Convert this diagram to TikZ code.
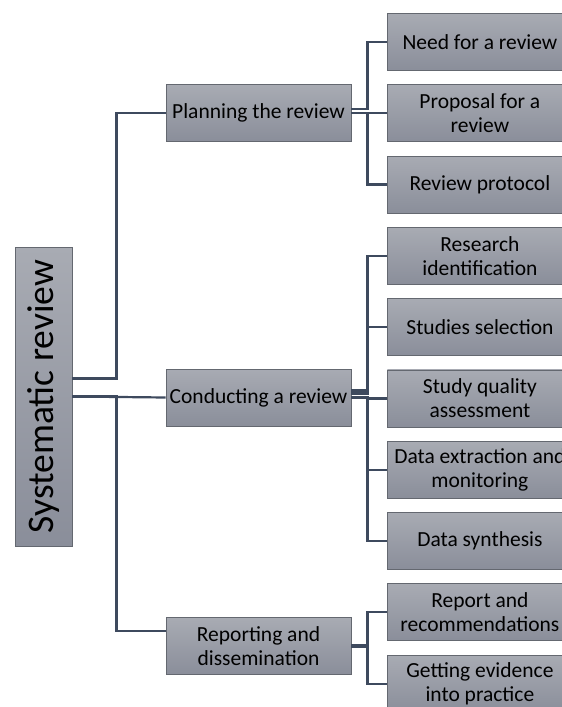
\documentclass[tikz,border=0pt]{standalone}
\usepackage{fontspec}
\setmainfont{Carlito}
\usepackage{tikz}
\usetikzlibrary{positioning,calc}

\definecolor{boxtop}{RGB}{168,171,179}
\definecolor{boxbot}{RGB}{138,142,154}
\definecolor{boxline}{RGB}{100,104,112}
\definecolor{connline}{RGB}{62,74,94}

\begin{document}
\begin{tikzpicture}[
    x=1pt, y=-1pt,
    node distance=13.5pt,
    stagebox/.style={rectangle, draw=boxline, line width=0.8pt, top color=boxtop, bottom color=boxbot, minimum width=185pt, minimum height=57pt, align=center, inner sep=1pt, text=black, font=\fontsize{21.5}{24}\selectfont},
    rootbox/.style={stagebox, minimum width=57pt, minimum height=299pt, font=\fontsize{37.5}{40}\selectfont},
    conn/.style={draw=connline, line width=2.2pt}
]
\useasboundingbox (0,0) rectangle (562,707);
\clip (0,0) rectangle (562,707);

\node[rootbox] (root) at (43.5,396.5) {\rotatebox{90}{Systematic review}};

\node[stagebox] (plan) at (258.5,113) {Planning the review};
\node[stagebox] (cond) at (258.5,397.5) {Conducting a review};
\node[stagebox] (rep) at (258.5,646) {Reporting and\\dissemination};

\node[stagebox, anchor=north west] (need) at (387,13) {Need for a review};
\node[stagebox, below=of need] (prop) {Proposal for a\\review};
\node[stagebox, below=of prop] (prot) {Review protocol};
\node[stagebox, below=of prot] (ident) {Research\\identification};
\node[stagebox, below=of ident] (sel) {Studies selection};
\node[stagebox, below=of sel] (qual) {Study quality\\assessment};
\node[stagebox, below=of qual] (extr) {Data extraction and\\monitoring};
\node[stagebox, below=of extr] (synth) {Data synthesis};
\node[stagebox, below=of synth] (recom) {Report and\\recommendations};
\node[stagebox, below=of recom] (evid) {Getting evidence\\into practice};

\draw[conn] ([yshift=18pt]root.east) -- ++(44,0) |- (plan.west);
\draw[conn] (root.east) -- (cond.west);
\draw[conn] (root.east) -- ++(44,0) |- ([yshift=15pt]rep.west);

\draw[conn] ([yshift=4pt]plan.east) -- ++(16,0) |- (need.west);
\foreach \c in {prop,prot}
    \draw[conn] (plan.east) -- ++(16,0) |- (\c.west);

\draw[conn] ([yshift=7pt]cond.east) -- ++(16,0) |- (ident.west);
\draw[conn] ([yshift=4pt]cond.east) -- ++(16,0) |- (sel.west);
\foreach \c in {qual,extr,synth}
    \draw[conn] (cond.east) -- ++(16,0) |- (\c.west);

\draw[conn, line width=4.5pt] (rep.east) -- ++(17,0);
\foreach \c in {recom,evid}
    \draw[conn] (rep.east) -- ++(16,0) |- (\c.west);
\end{tikzpicture}
\end{document}
